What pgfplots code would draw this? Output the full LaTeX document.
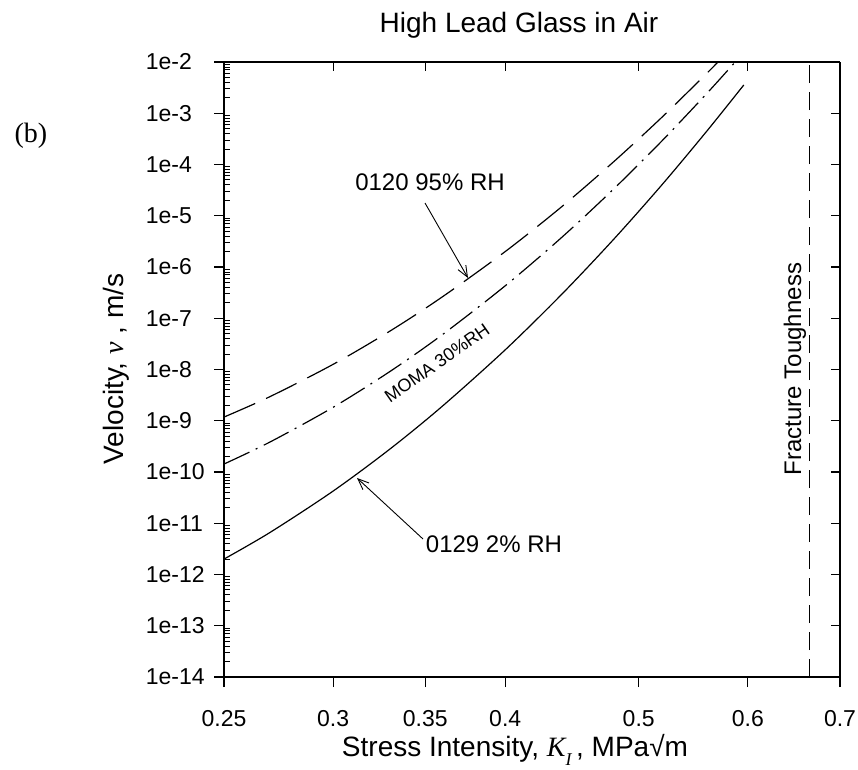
\documentclass[border=0pt]{standalone}
\usepackage{fontspec}
\setmainfont{Liberation Sans}
\newfontfamily\serif{Liberation Serif}
\usepackage{pgfplots}
\pgfplotsset{compat=1.18}
\usetikzlibrary{arrows.meta}

\begin{document}
\begin{tikzpicture}
% minor ticks on the left (inside)
\begin{axis}[
  scale only axis, width=616pt, height=615pt, at={(0pt,0pt)}, anchor=south west,
  xmode=log, ymode=log, xmin=0.25, xmax=0.7, ymin=1e-14, ymax=1e-2,
  axis line style={line width=1.3pt, black},
  hide x axis, axis y line*=left,
  tick align=inside, major tick length=0pt, minor tick length=6pt,
  ytick={1e-14,1e-13,1e-12,1e-11,1e-10,1e-9,1e-8,1e-7,1e-6,1e-5,1e-4,1e-3,1e-2},
  yticklabels={},
  minor ytick={2e-14,3e-14,4e-14,5e-14,6e-14,7e-14,8e-14,9e-14,
               2e-13,3e-13,4e-13,5e-13,6e-13,7e-13,8e-13,9e-13,
               2e-12,3e-12,4e-12,5e-12,6e-12,7e-12,8e-12,9e-12,
               2e-11,3e-11,4e-11,5e-11,6e-11,7e-11,8e-11,9e-11,
               2e-10,3e-10,4e-10,5e-10,6e-10,7e-10,8e-10,9e-10,
               2e-9,3e-9,4e-9,5e-9,6e-9,7e-9,8e-9,9e-9,
               2e-8,3e-8,4e-8,5e-8,6e-8,7e-8,8e-8,9e-8,
               2e-7,3e-7,4e-7,5e-7,6e-7,7e-7,8e-7,9e-7,
               2e-6,3e-6,4e-6,5e-6,6e-6,7e-6,8e-6,9e-6,
               2e-5,3e-5,4e-5,5e-5,6e-5,7e-5,8e-5,9e-5,
               2e-4,3e-4,4e-4,5e-4,6e-4,7e-4,8e-4,9e-4,
               2e-3,3e-3,4e-3,5e-3,6e-3,7e-3,8e-3,9e-3},
  minor tick style={line width=0.9pt, black},
]
\addplot[draw=none] coordinates {(0.3,1e-10)};
\end{axis}
% top and right: major ticks inside
\begin{axis}[
  scale only axis, width=616pt, height=615pt, at={(0pt,0pt)}, anchor=south west,
  xmode=log, ymode=log, xmin=0.25, xmax=0.7, ymin=1e-14, ymax=1e-2,
  axis line style={line width=1.3pt, black},
  major tick style={line width=1.1pt, black},
  axis x line*=top, axis y line*=right,
  tick align=inside, major tick length=9pt, minor tick length=0pt,
  xtick={0.25,0.3,0.35,0.4,0.5,0.6,0.7}, xticklabels={},
  ytick={1e-14,1e-13,1e-12,1e-11,1e-10,1e-9,1e-8,1e-7,1e-6,1e-5,1e-4,1e-3,1e-2},
  yticklabels={},
]
\addplot[draw=none] coordinates {(0.3,1e-10)};
\end{axis}
% main axis with data
\begin{axis}[
  scale only axis, width=616pt, height=615pt, at={(0pt,0pt)}, anchor=south west,
  xmode=log, ymode=log, xmin=0.25, xmax=0.7, ymin=1e-14, ymax=1e-2,
  axis line style={line width=1.3pt, black},
  major tick style={line width=1.1pt, black},
  axis x line*=bottom, axis y line*=left,
  tick align=outside, major tick length=10pt, minor tick length=0pt,
  xtick={0.25,0.3,0.35,0.4,0.5,0.6,0.7},
  xticklabels={0.25,0.3,0.35,0.4,0.5,0.6,0.7},
  ytick={1e-14,1e-13,1e-12,1e-11,1e-10,1e-9,1e-8,1e-7,1e-6,1e-5,1e-4,1e-3,1e-2},
  yticklabels={1e-14,1e-13,1e-12,1e-11,1e-10,1e-9,1e-8,1e-7,1e-6,1e-5,1e-4,1e-3,1e-2},
  tick label style={font=\fontsize{23}{23}\selectfont},
  xticklabel style={yshift=-20pt},
  yticklabel style={anchor=east, text width=59pt, align=left, inner xsep=0pt, xshift=-9pt},
]
\addplot[black, line width=1.2pt, smooth] coordinates {
  (0.25,2.00e-12)(0.27,6.62e-12)(0.30,4.24e-11)(0.33,2.82e-10)(0.36,1.91e-9)
  (0.40,2.42e-8)(0.44,3.00e-7)(0.48,3.58e-6)(0.52,4.07e-5)(0.56,4.41e-4)(0.596,3.56e-3)};
\addplot[black, line width=1.2pt, smooth, dash pattern=on 34pt off 12pt] coordinates {
  (0.25,1.18e-9)(0.27,2.96e-9)(0.30,1.26e-8)(0.33,5.64e-8)(0.36,2.60e-7)
  (0.40,2.00e-6)(0.44,1.53e-5)(0.48,1.16e-4)(0.52,8.45e-4)(0.56,5.94e-3)(0.5708,1e-2)};
\addplot[black, line width=1.2pt, smooth, dash pattern=on 28pt off 7pt on 2pt off 7pt] coordinates {
  (0.25,1.43e-10)(0.27,3.85e-10)(0.30,1.83e-9)(0.33,9.18e-9)(0.36,4.75e-8)
  (0.40,4.30e-7)(0.44,3.86e-6)(0.48,3.42e-5)(0.52,2.92e-4)(0.56,2.40e-3)(0.5875,1e-2)};
\addplot[black, line width=1.2pt, dash pattern=on 18pt off 9pt] coordinates {
  (0.665,1e-14)(0.665,1e-2)};
\end{axis}

% texts and annotations (pt coordinates relative to the axis' lower left corner)
\node[font=\fontsize{28}{28}\selectfont] at (295pt,652pt) {High Lead Glass in Air};
\node[font=\fontsize{28}{28}\selectfont\serif] at (-193pt,541pt) {(b)};
\node[font=\fontsize{28}{28}\selectfont] at (291pt,-73pt)
  {Stress Intensity, {\serif\itshape K\raisebox{-0.3em}{\fontsize{18}{18}\selectfont I}}\,, MPa√m};
\node[font=\fontsize{28}{28}\selectfont, rotate=90] at (-108pt,308pt)
  {Velocity, {\serif\itshape ν} , m/s};
\node[font=\fontsize{24}{24}\selectfont, rotate=90] at (571pt,308pt) {Fracture Toughness};
\node[font=\fontsize{24}{24}\selectfont] at (206pt,495pt) {0120 95\% RH};
\node[font=\fontsize{24}{24}\selectfont] at (270pt,133pt) {0129 2\% RH};
\node[font=\fontsize{18}{18}\selectfont, rotate=35, inner sep=0pt] at (213pt,314pt) {MOMA 30\%RH};
\draw[line width=0.9pt, -{Straight Barb[length=11pt,width=9pt]}] (201pt,474pt) -- (244pt,399pt);
\draw[line width=0.9pt, -{Straight Barb[length=11pt,width=9pt]}] (199pt,138pt) -- (133pt,199pt);

\pgfresetboundingbox
\path (-224pt,-92pt) rectangle (634pt,677pt);
\end{tikzpicture}
\end{document}
